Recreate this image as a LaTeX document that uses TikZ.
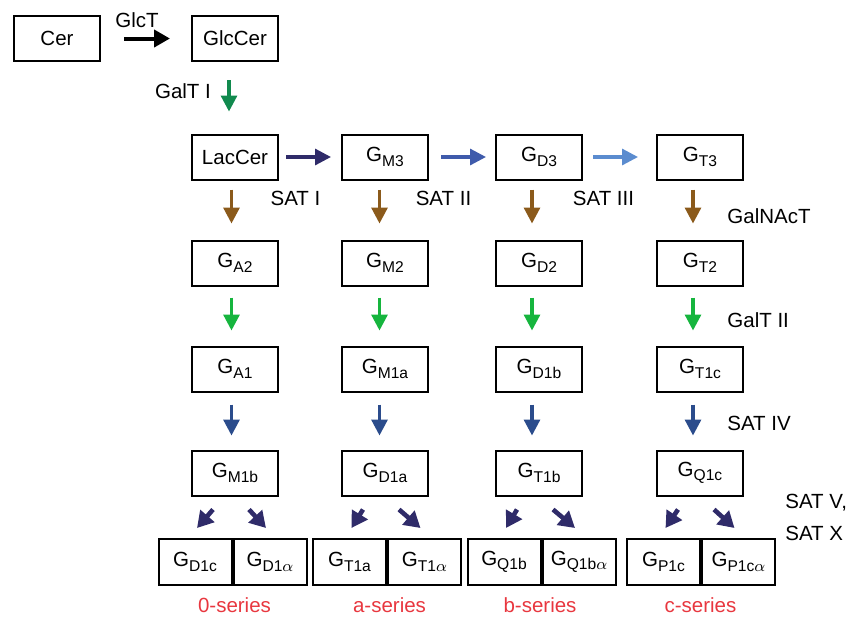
\documentclass[tikz,border=0pt]{standalone}
\usepackage{fontspec}
\setmainfont{Liberation Sans}
\usetikzlibrary{arrows.meta,positioning}
\definecolor{gtgreen}{HTML}{118A4E}
\definecolor{satbrown}{HTML}{8B5A1B}
\definecolor{galgreen}{HTML}{16B53E}
\definecolor{satblue}{HTML}{2B4C8C}
\definecolor{navy}{HTML}{2F2B69}
\definecolor{midblue}{HTML}{3F5BAB}
\definecolor{skyblue}{HTML}{5B8CCF}
\definecolor{serred}{HTML}{E8373F}
\newcommand{\gsub}[1]{G\raisebox{-2.3pt}{\fontsize{7.8}{8}\selectfont #1}}

\begin{document}
\begin{tikzpicture}[x=0.5pt,y=-0.5pt,
  box/.style={draw,line width=1pt,minimum width=43pt,minimum height=22.5pt,inner sep=0pt,font=\fontsize{10.25}{12}\selectfont},
  pbox/.style={box,minimum width=36.5pt,minimum height=23pt},
  arr/.style={line width=1.6pt,-{Triangle[length=8pt,width=8pt]}},
  lbl/.style={font=\fontsize{10.25}{12}\selectfont}]
  \useasboundingbox (0,0) rectangle (854,616);

  % Top row
  \node[box] (cer) at (57,38.5) {Cer};
  \node[box] (glccer) at (235,38.5) {GlcCer};
  \node[lbl] (glct) at (137,20) {GlcT};
  \node[lbl] (galt) at (183,91) {GalT I};

  % Columns
  \node[box] (lac) at (235,157) {LacCer};
  \node[box] (gm3) at (385,157) {\gsub{M3}};
  \node[box] (gd3) at (539,157) {\gsub{D3}};
  \node[box] (gt3) at (700,157) {\gsub{T3}};

  \node[box] (ga2) at (235,263) {\gsub{A2}};
  \node[box] (gm2) at (385,263) {\gsub{M2}};
  \node[box] (gd2) at (539,263) {\gsub{D2}};
  \node[box] (gt2) at (700,263) {\gsub{T2}};

  \node[box] (ga1) at (235,369) {\gsub{A1}};
  \node[box] (gm1a) at (385,369) {\gsub{M1a}};
  \node[box] (gd1b) at (539,369) {\gsub{D1b}};
  \node[box] (gt1c) at (700,369) {\gsub{T1c}};

  \node[box] (gm1b) at (235,473) {\gsub{M1b}};
  \node[box] (gd1a) at (385,473) {\gsub{D1a}};
  \node[box] (gt1b) at (539,473) {\gsub{T1b}};
  \node[box] (gq1c) at (700,473) {\gsub{Q1c}};

  % Bottom pairs
  \node[pbox] (gd1c) at (195,562) {\gsub{D1c}};
  \node[pbox,right=0pt of gd1c] (gd1al) {\gsub{D1$\alpha$}};
  \node[pbox] (gt1a) at (349.5,562) {\gsub{T1a}};
  \node[pbox,right=0pt of gt1a] (gt1al) {\gsub{T1$\alpha$}};
  \node[pbox] (gq1b) at (504,562) {\gsub{Q1b}};
  \node[pbox,right=0pt of gq1b] (gq1bal) {\gsub{Q1b$\alpha$}};
  \node[pbox] (gp1c) at (663.5,562) {\gsub{P1c}};
  \node[pbox,right=0pt of gp1c] (gp1cal) {\gsub{P1c$\alpha$}};

  % Enzyme labels
  \node[lbl] (sat1) at (295.5,198) {SAT I};
  \node[lbl] (sat2) at (443.5,198) {SAT II};
  \node[lbl] (sat3) at (603.5,198) {SAT III};
  \node[lbl,anchor=west,inner sep=0pt] (galnact) at (727,216) {GalNAcT};
  \node[lbl,anchor=west,inner sep=0pt] (galt2) at (727,320) {GalT II};
  \node[lbl,anchor=west,inner sep=0pt] (sat4) at (727,423) {SAT IV};
  \node[lbl,anchor=west,inner sep=0pt] (sat5) at (785,503) {SAT V,};
  \node[lbl,anchor=west,inner sep=0pt] (satx) at (785,533) {SAT X};

  % Series
  \node[lbl,text=serred] (s0) at (234.5,605) {0-series};
  \node[lbl,text=serred] (sa) at (389.5,605) {a-series};
  \node[lbl,text=serred] (sb) at (540,605) {b-series};
  \node[lbl,text=serred] (sc) at (700.5,605) {c-series};

  % Arrows
  \draw[line width=2pt,-{Triangle[length=8pt,width=8.5pt]},shorten <=11.5pt,shorten >=10.5pt] (cer) -- (glccer);
  \draw[arr,gtgreen,shorten <=9pt,shorten >=11pt] ([xshift=-3pt]glccer.south) -- ([xshift=-3pt]lac.north);
  \draw[arr,navy,shorten <=3.5pt,shorten >=5pt] (lac) -- (gm3);
  \draw[arr,midblue,shorten <=6pt,shorten >=4.5pt] (gm3) -- (gd3);
  \draw[arr,skyblue,shorten <=5pt,shorten >=9pt] (gd3) -- (gt3);

  \foreach \a/\b/\dx in {lac/ga2/-1.75, gm3/gm2/-2.75, gd3/gd2/-3.5, gt3/gt2/-3.5}
    \draw[arr,satbrown,shorten <=4.5pt,shorten >=8pt] ([xshift=\dx pt]\a.south) -- ([xshift=\dx pt]\b.north);
  \foreach \a/\b/\dx in {ga2/ga1/-1.75, gm2/gm1a/-2.75, gd2/gd1b/-3.5, gt2/gt1c/-3.5}
    \draw[arr,galgreen,shorten <=5.5pt,shorten >=7.5pt] ([xshift=\dx pt]\a.south) -- ([xshift=\dx pt]\b.north);
  \foreach \a/\b/\dx in {ga1/gm1b/-1.75, gm1a/gd1a/-2.75, gd1b/gt1b/-3.5, gt1c/gq1c/-3.5}
    \draw[arr,satblue,shorten <=6pt,shorten >=7pt] ([xshift=\dx pt]\a.south) -- ([xshift=\dx pt]\b.north);

  \foreach \a/\l/\r in {gm1b/gd1c/gd1al, gd1a/gt1a/gt1al, gt1b/gq1b/gq1bal, gq1c/gp1c/gp1cal} {
    \draw[navy,line width=2.3pt,-{Triangle[length=8pt,width=9pt]}] ([xshift=-11pt,yshift=-6.5pt]\a.south) -- ([xshift=1pt,yshift=5pt]\l.north);
    \draw[navy,line width=2.3pt,-{Triangle[length=8pt,width=9pt]}] ([xshift=7pt,yshift=-6.5pt]\a.south) -- ([xshift=-2pt,yshift=5pt]\r.north);
  }
\end{tikzpicture}
\end{document}
